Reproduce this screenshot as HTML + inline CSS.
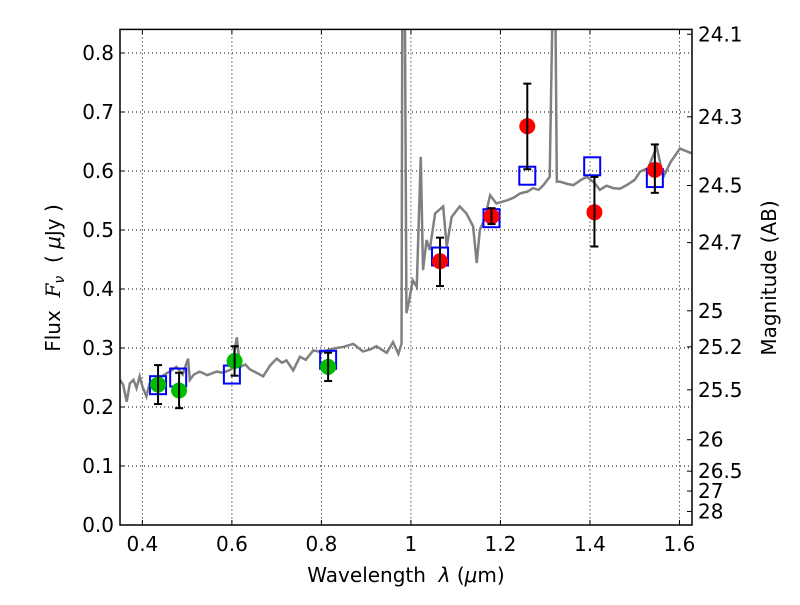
<!DOCTYPE html>
<html><head><meta charset="utf-8"><style>
body{margin:0;background:#fff;}
svg text{font-family:"DejaVu Sans","Liberation Sans",sans-serif;}
</style></head><body>
<svg id="chart" width="800" height="600" xmlns="http://www.w3.org/2000/svg"></svg>
<script>
const specWl=[0.35,0.357,0.365,0.372,0.38,0.387,0.394,0.40,0.409,0.416,0.424,0.44,0.454,0.465,0.476,0.49,0.502,0.506,0.515,0.528,0.545,0.566,0.58,0.599,0.611,0.618,0.630,0.640,0.655,0.670,0.685,0.700,0.712,0.722,0.737,0.752,0.765,0.782,0.80,0.826,0.85,0.871,0.893,0.91,0.923,0.935,0.946,0.960,0.972,0.979,0.981,0.986,0.99,0.996,1.004,1.013,1.022,1.027,1.035,1.042,1.054,1.072,1.08,1.091,1.109,1.124,1.139,1.147,1.154,1.165,1.177,1.191,1.214,1.23,1.244,1.26,1.273,1.285,1.296,1.31,1.318,1.322,1.326,1.333,1.35,1.363,1.38,1.393,1.41,1.422,1.437,1.452,1.467,1.482,1.5,1.512,1.53,1.549,1.564,1.58,1.601,1.627];
const specFlux=[0.246,0.238,0.209,0.24,0.246,0.232,0.252,0.235,0.218,0.24,0.246,0.25,0.257,0.262,0.268,0.255,0.282,0.246,0.255,0.26,0.254,0.26,0.258,0.264,0.318,0.268,0.272,0.264,0.258,0.252,0.27,0.282,0.275,0.279,0.262,0.285,0.28,0.296,0.293,0.299,0.302,0.307,0.294,0.298,0.303,0.297,0.292,0.31,0.29,0.307,0.95,0.95,0.359,0.38,0.415,0.404,0.624,0.432,0.483,0.466,0.528,0.54,0.472,0.522,0.54,0.528,0.506,0.444,0.5,0.52,0.559,0.545,0.55,0.555,0.562,0.565,0.571,0.568,0.576,0.59,0.95,0.95,0.582,0.582,0.578,0.576,0.585,0.59,0.58,0.568,0.575,0.571,0.57,0.576,0.585,0.599,0.605,0.641,0.59,0.615,0.638,0.63];
const greenWl=[0.435,0.482,0.606,0.815];
const greenFlux=[0.238,0.228,0.278,0.268];
const greenErr=[0.033,0.03,0.025,0.024];
const boxWl=[0.435,0.48,0.6,0.815,1.065,1.18,1.26,1.405,1.545];
const boxFlux=[0.237,0.25,0.255,0.28,0.455,0.52,0.592,0.608,0.588];
const redWl=[1.065,1.18,1.26,1.41,1.545];
const redFlux=[0.447,0.523,0.676,0.53,0.602];
const redErrLo=[0.042,0.013,0.073,0.058,0.039];
const redErrHi=[0.04,0.014,0.072,0.06,0.043];
const xTicks=[0.4,0.6,0.8,1.0,1.2,1.4,1.6];
const xTickLabels=["0.4","0.6","0.8","1","1.2","1.4","1.6"];
const yTicks=[0,0.1,0.2,0.3,0.4,0.5,0.6,0.7,0.8];
const magTicks=[24.1,24.3,24.5,24.7,25,25.2,25.5,26,26.5,27,28];

const L=120,R=692,T=29.4,B=525,X0=0.35,X1=1.628,Y0=0,Y1=0.84;
const sx=v=>L+(v-X0)/(X1-X0)*(R-L);
const sy=v=>B-(v-Y0)/(Y1-Y0)*(B-T);
const NS="http://www.w3.org/2000/svg";
const svg=document.getElementById('chart');
function mk(tag,attrs,parent){const e=document.createElementNS(NS,tag);for(const k in attrs)e.setAttribute(k,attrs[k]);(parent||svg).appendChild(e);return e;}
const defs=mk('defs',{});const cp=mk('clipPath',{id:'clip'},defs);mk('rect',{x:L,y:T,width:R-L,height:B-T},cp);
const grid=mk('g',{});


xTicks.forEach(v=>mk('line',{x1:sx(v),x2:sx(v),y1:T,y2:B,stroke:'#000','stroke-width':1,'stroke-dasharray':'1,3'},grid));
yTicks.forEach(v=>mk('line',{x1:L,x2:R,y1:sy(v),y2:sy(v),stroke:'#000','stroke-width':1,'stroke-dasharray':'1,3'},grid));
const plot=mk('g',{'clip-path':'url(#clip)'});
const sp=mk('polyline',{points:specWl.map((w,i)=>sx(w)+','+sy(specFlux[i])).join(' '),fill:'none',stroke:'#808080','stroke-width':2.5},plot);


function errbar(x,lo,hi,g){mk('line',{x1:sx(x),x2:sx(x),y1:sy(lo),y2:sy(hi),stroke:'#000','stroke-width':2},g);[lo,hi].forEach(v=>mk('line',{x1:sx(x)-4,x2:sx(x)+4,y1:sy(v),y2:sy(v),stroke:'#000','stroke-width':2},g));}
boxWl.forEach((w,i)=>{const r=mk('rect',{x:sx(w)-8,y:sy(boxFlux[i])-9,width:16,height:18,fill:'none',stroke:'#0000ff','stroke-width':2},plot);

});
greenWl.forEach((w,i)=>{const c=mk('circle',{cx:sx(w),cy:sy(greenFlux[i]),r:8,fill:'#00bb00'},plot);


errbar(w,greenFlux[i]-greenErr[i],greenFlux[i]+greenErr[i],plot);});
redWl.forEach((w,i)=>{const c=mk('circle',{cx:sx(w),cy:sy(redFlux[i]),r:8,fill:'#ff0000'},plot);


errbar(w,redFlux[i]-redErrLo[i],redFlux[i]+redErrHi[i],plot);});
mk('rect',{x:L,y:T,width:R-L,height:B-T,fill:'none',stroke:'#000','stroke-width':1.5});
xTicks.forEach((v,i)=>{mk('line',{x1:sx(v),x2:sx(v),y1:B,y2:B-5,stroke:'#000'});mk('line',{x1:sx(v),x2:sx(v),y1:T,y2:T+5,stroke:'#000'});
const t=mk('text',{x:sx(v),y:B+26,'font-size':20,'text-anchor':'middle'});t.textContent=xTickLabels[i];

});
yTicks.forEach(v=>{mk('line',{x1:L,x2:L+5,y1:sy(v),y2:sy(v),stroke:'#000'});
const t=mk('text',{x:L-6,y:sy(v)+7,'font-size':20,'text-anchor':'end'});t.textContent=v.toFixed(1);

});
magTicks.forEach(m=>{const f=Math.pow(10,(23.9-m)/2.5);const y=sy(f);mk('line',{x1:R,x2:R-5,y1:y,y2:y,stroke:'#000'});
const t=mk('text',{x:R+6,y:y+7,'font-size':20});t.textContent=String(m);

});
</script>
<div style="position:absolute;left:0;top:0;width:800px;height:600px;pointer-events:none">
<svg width="800" height="600" xmlns="http://www.w3.org/2000/svg" style="position:absolute;left:0;top:0">
<text x="406" y="582" font-size="20" text-anchor="middle" font-family="DejaVu Sans, sans-serif">Wavelength&#160;&#160;<tspan font-style="italic">λ</tspan> (<tspan font-style="italic">μ</tspan>m)</text>
<text transform="translate(60,278) rotate(-90)" font-size="20" text-anchor="middle" font-family="DejaVu Sans, sans-serif">Flux&#160;&#160;<tspan font-style="italic" font-family="DejaVu Serif, serif">F</tspan><tspan font-style="italic" font-size="14" dy="4">ν</tspan><tspan dy="-4">&#160;&#160;( </tspan><tspan font-style="italic">μ</tspan>Jy )</text>
<text transform="translate(776,278) rotate(-90)" font-size="20" text-anchor="middle" font-family="DejaVu Sans, sans-serif">Magnitude (AB)</text>
</svg></div>
</body></html>
